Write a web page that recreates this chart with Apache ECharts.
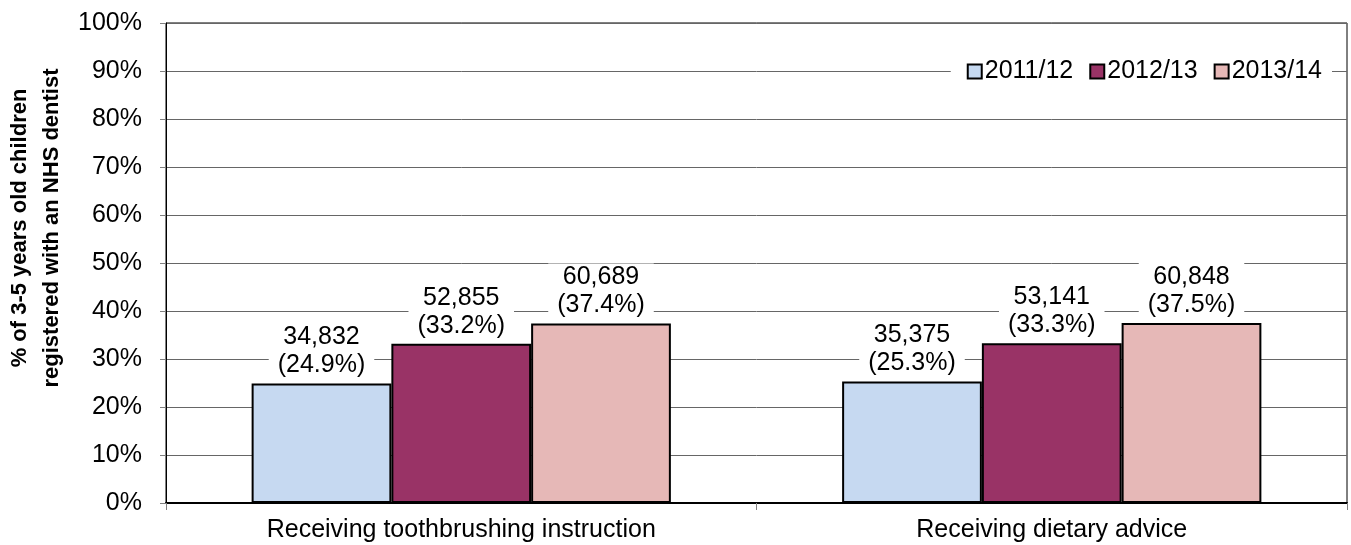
<!DOCTYPE html>
<html>
<head>
<meta charset="utf-8">
<script src="https://cdn.jsdelivr.net/npm/echarts@6/dist/echarts.min.js"></script>
<style>
html,body{margin:0;padding:0;background:#fff;}
#chart{width:1351px;height:545px;}
</style>
</head>
<body>
<div id="chart"></div>
<script>
var categories = ['Receiving toothbrushing instruction', 'Receiving dietary advice'];
var seriesNames = ['2011/12', '2012/13', '2013/14'];
var pct2011 = [24.9, 25.3];
var pct2012 = [33.2, 33.3];
var pct2013 = [37.4, 37.5];
var cnt2011 = [34832, 35375];
var cnt2012 = [52855, 53141];
var cnt2013 = [60689, 60848];
var colors = ['#C6D9F1', '#993366', '#E6B8B7'];
var yTicks = [0, 10, 20, 30, 40, 50, 60, 70, 80, 90, 100];

var FONT = '"Liberation Sans", Arial, sans-serif';
var FS = 25;
var pcts = [pct2011, pct2012, pct2013];
var cnts = [cnt2011, cnt2012, cnt2013];

function fmtNum(n) { return n.toString().replace(/\B(?=(\d{3})+(?!\d))/g, ','); }

var series = seriesNames.map(function (name, i) {
  return {
    name: name,
    type: 'bar',
    barGap: '0%',
    barCategoryGap: '29%',
    data: pcts[i],
    itemStyle: { color: colors[i], borderColor: '#000', borderWidth: 2 },
    label: {
      show: true,
      position: 'top',
      distance: 4,
      fontSize: FS,
      fontFamily: FONT,
      color: '#000',
      lineHeight: 28,
      backgroundColor: '#fff',
      padding: [0, 9, 0, 9],
      formatter: function (p) {
        return fmtNum(cnts[i][p.dataIndex]) + '\n(' + p.value.toFixed(1) + '%)';
      }
    },
    emphasis: { disabled: true }
  };
});

var chart = echarts.init(document.getElementById('chart'), null, { renderer: 'canvas' });
chart.setOption({
  animation: false,
  backgroundColor: '#fff',
  grid: {
    left: 166, right: 4, top: 23, bottom: 42,
    show: true, borderColor: '#000', borderWidth: 1, backgroundColor: 'transparent'
  },
  legend: {
    data: seriesNames,
    right: 19,
    top: 55,
    backgroundColor: '#fff',
    padding: [4, 10, 4, 16],
    itemWidth: 14,
    itemHeight: 14,
    itemGap: 16,
    icon: 'rect',
    textStyle: { fontSize: FS, fontFamily: FONT, color: '#000', padding: [0, 0, 0, -2] },
    itemStyle: { borderColor: '#000', borderWidth: 2 },
    selectedMode: false
  },
  xAxis: {
    type: 'category',
    data: categories,
    axisLine: { lineStyle: { color: '#000', width: 2 } },
    axisTick: { show: true, length: 7, lineStyle: { color: '#808080' } },
    axisLabel: { fontSize: FS, fontFamily: FONT, color: '#000', margin: 15 }
  },
  yAxis: {
    type: 'value',
    min: yTicks[0],
    max: yTicks[yTicks.length - 1],
    interval: 10,
    axisLine: { show: true, lineStyle: { color: '#000', width: 1 } },
    axisTick: { show: true, length: 6, lineStyle: { color: '#808080' } },
    axisLabel: { fontSize: FS, fontFamily: FONT, color: '#000', margin: 24, formatter: '{value}%' },
    splitLine: { show: true, lineStyle: { color: '#666', width: 1 } }
  },
  graphic: [{
    type: 'text',
    x: 36,
    y: 228,
    rotation: Math.PI / 2,
    style: {
      text: '% of 3-5 years old children\nregistered with an NHS dentist',
      fontSize: 22,
      fontWeight: 'bold',
      fontFamily: FONT,
      fill: '#000',
      align: 'center',
      verticalAlign: 'middle',
      lineHeight: 32
    }
  }],
  series: series
});
</script>
</body>
</html>
